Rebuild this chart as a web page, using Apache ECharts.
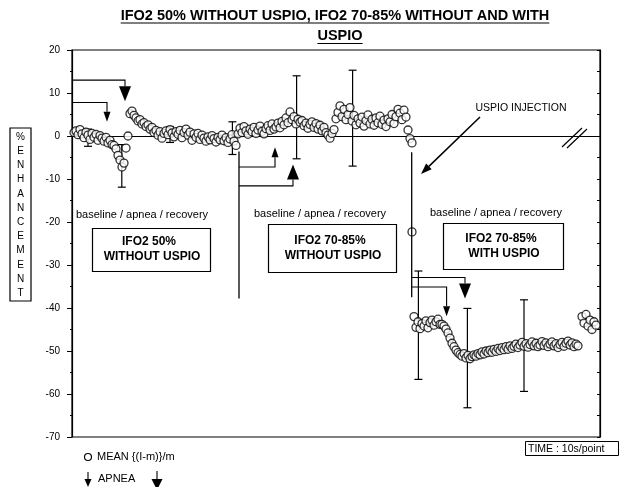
<!DOCTYPE html>
<html><head><meta charset="utf-8">
<script src="https://cdn.jsdelivr.net/npm/echarts@6/dist/echarts.min.js"></script>
<style>html,body{margin:0;padding:0;background:#fff}#c{width:620px;height:487px}</style>
</head><body><div id="c"></div>
<script>
// ---- data (x = point index, 10 s per point; y = % enhancement) ----
const yTickValues = [20, 10, 0, -10, -20, -30, -40, -50, -60, -70];

const seg1Start = 1;   // IFO2 50% without USPIO
const seg1 = [0.8, 1.2, 0.3, 1.5, 0.5, -0.4, 0.9, 0.2, -0.8, 0.6, -0.3, 0.4, -1.0, 0.1,
  -0.5, -1.2, -0.3, -1.6, -1.0, -2.0,
  -2.2, -3.0, -4.5, -5.6, -7.2, -6.3, -2.8,
  0.0,
  5.2, 5.8, 4.8, 4.2, 3.5, 3.8, 2.8, 3.1, 2.2, 2.6, 1.6, 2.0,
  0.8, 1.3, 0.2, 1.0, -0.5, 0.6, 1.2, 0.3, 1.5, 0.7, -0.2, 1.0, 0.4, 1.3, -0.4, 0.8, 1.6, 0.2, 0.9, -1.0,
  0.5, -0.3, 0.6, -0.8, 0.2, -0.5, -1.2, -0.2, -0.9, 0.1, -0.6, -1.4, -0.3, -0.9, 0.2, -1.1, -0.4, -1.5,
  -0.7, 0.3, -1.2, -2.2];

const seg2Start = 83;  // IFO2 70-85% without USPIO
const seg2 = [0.5, 1.8, 0.8, 2.2, 1.2, 0.4, 1.6,
  1.0, 2.0, 0.6, 1.4, 2.3, 1.1, 0.5, 1.7, 2.4, 1.3, 2.8, 1.6, 2.1, 3.0, 1.9,
  3.4, 2.6, 4.2, 3.1, 5.6, 3.8, 4.5, 2.8, 3.9, 3.2,
  3.6, 2.4, 3.0, 1.8, 2.7, 3.3, 2.0, 2.9, 1.6, 2.5, 1.2, 2.0, 0.8,
  0.2, -0.5, 0.6, 1.5, 4.0,
  5.5, 7.0, 4.5, 6.2, 3.8, 5.0, 6.6,
  3.5, 4.8, 2.6, 4.0, 3.0, 4.4, 2.3, 3.6, 4.9, 2.8, 3.9, 2.5, 4.2, 3.1, 4.6, 2.7, 3.7, 2.2, 4.0, 3.3,
  5.0, 2.9, 4.5, 6.2, 5.3, 3.8, 6.0, 4.4, 1.4, -0.6,
  -1.6];

const injectionPoint = [[170, -22.3]];

const seg3Start = 171; // IFO2 70-85% with USPIO
const seg3 = [-42.0, -44.5, -43.2, -44.8, -43.6, -44.2, -43.0, -44.6, -43.4, -42.8, -44.0, -43.2, -42.6, -43.8,
  -43.8, -44.2, -44.9, -45.8, -47.0, -48.2,
  -49.0, -49.8, -50.4, -50.8, -51.2, -50.6, -51.6, -51.0, -51.8, -51.3, -50.9,
  -51.2, -50.6, -50.9, -50.2, -50.7, -50.0, -50.4, -49.8, -50.3, -49.6, -50.1, -49.4, -49.9, -49.2, -49.7,
  -49.0, -49.6, -48.8, -49.4, -48.9,
  -48.4, -49.2, -48.6, -48.0, -48.9, -48.3, -49.1, -48.5, -47.9, -48.8, -48.2, -49.0, -48.6, -47.8, -48.7,
  -48.1, -49.0, -48.4, -47.9, -48.8, -48.3, -49.2, -48.5, -48.0, -48.9, -48.2, -47.7, -48.6, -48.1, -49.0,
  -48.4, -48.8];

const seg4Start = 255; // after the time break
const seg4 = [-42.0, -43.5, -41.5, -44.2, -42.8, -45.0, -43.2, -44.0];

// error bars: [x, low, high]
const errorBars = [[8, -2.4, 1.6], [24.9, -11.9, -2.0], [49, -1.5, 2.2], [80.2, -4.3, 3.3],
  [112.3, -5.3, 14.0], [140.3, -7.0, 15.3], [173.2, -56.6, -31.4], [197.7, -63.2, -40.1], [226, -59.4, -38.1]];

// period separators: [x, top, bottom]
const separators = [[83.5, -3.6, -37.8], [169.85, -3.8, -37.5]];

// apnea markers: [xFrom, yLevel, xArrow, yTip, kind(1=big,0=small)]
const apneaMarks = [[0, 13.0, 26.5, 8.1, 1], [0, 7.8, 17.5, 3.3, 0],
  [83.5, -7.2, 101.5, -2.6, 0], [83.5, -11.6, 110.5, -6.6, 1],
  [169.85, -32.9, 196.5, -37.8, 1], [169.85, -35.1, 187.3, -41.9, 0]];

// ---- chart ----
const FONT = '"Liberation Sans", Arial, Helvetica, sans-serif';
const chart = echarts.init(document.getElementById('c'), null, {renderer: 'canvas'});
const toPts = (arr, start) => arr.map((v, i) => [start + i, v]);
const pointStyle = {color: '#fff', borderColor: '#000', borderWidth: 1.3};
const scatter = (name, data) => ({type: 'scatter', name, data, symbol: 'circle', symbolSize: 8,
  itemStyle: pointStyle, z: 3, silent: true});

function renderErr(params, api) {
  const x = api.value(0);
  const pLo = api.coord([x, api.value(1)]), pHi = api.coord([x, api.value(2)]);
  const w = 4, st = {stroke: '#000', lineWidth: 1.2};
  return {type: 'group', children: [
    {type: 'line', shape: {x1: pLo[0], y1: pLo[1], x2: pHi[0], y2: pHi[1]}, style: st},
    {type: 'line', shape: {x1: pLo[0] - w, y1: pLo[1], x2: pLo[0] + w, y2: pLo[1]}, style: st},
    {type: 'line', shape: {x1: pHi[0] - w, y1: pHi[1], x2: pHi[0] + w, y2: pHi[1]}, style: st}]};
}
function renderSep(params, api) {
  const x = api.value(0);
  const a = api.coord([x, api.value(1)]), b = api.coord([x, api.value(2)]);
  return {type: 'line', shape: {x1: a[0], y1: a[1], x2: b[0], y2: b[1]}, style: {stroke: '#000', lineWidth: 1.3}};
}
function renderApnea(params, api) {
  const p0 = api.coord([api.value(0), api.value(1)]);
  const p1 = api.coord([api.value(2), api.value(1)]);
  const tip = api.coord([api.value(2), api.value(3)]);
  const big = api.value(4) === 1;
  const L = big ? 15 : 10, W = big ? 12 : 7;
  const dir = tip[1] > p1[1] ? 1 : -1;
  const baseY = tip[1] - dir * L;
  return {type: 'group', children: [
    {type: 'polyline', shape: {points: [p0, p1, [tip[0], baseY]]}, style: {stroke: '#000', lineWidth: 1.1, fill: null}},
    {type: 'polygon', shape: {points: [[tip[0] - W / 2, baseY], [tip[0] + W / 2, baseY], [tip[0], tip[1]]]}, style: {fill: '#000'}}]};
}

// ---- decorations (text) ----
const ctx = document.createElement('canvas').getContext('2d');
function textW(t, font) { ctx.font = font; return ctx.measureText(t).width; }
const g = [];
const title1 = 'IFO2 50% WITHOUT USPIO, IFO2 70-85% WITHOUT AND WITH';
const title2 = 'USPIO';
const tFont = 'bold 14.5px ' + FONT;
[[title1, 335, 16, 23], [title2, 340, 36, 43.5]].forEach(([t, cx, cy, uy]) => {
  const w = textW(t, tFont);
  g.push({type: 'text', x: cx, y: cy, style: {text: t, font: tFont, fill: '#000', align: 'center', verticalAlign: 'middle'}});
  g.push({type: 'line', shape: {x1: cx - w / 2, y1: uy, x2: cx + w / 2, y2: uy}, style: {stroke: '#000', lineWidth: 1.2}});
});
// Y label box
g.push({type: 'rect', shape: {x: 10, y: 128, width: 21, height: 173}, style: {fill: null, stroke: '#000', lineWidth: 1.2}});
'%ENHANCEMENT'.split('').forEach((ch, i) => {
  g.push({type: 'text', x: 20.5, y: 137 + i * 14.2, style: {text: ch, font: '10px ' + FONT, fill: '#000', align: 'center', verticalAlign: 'middle'}});
});
// phase labels and boxes
const small = '11px ' + FONT, boxF = 'bold 12px ' + FONT;
[[142, 215, 92, 228, 118, 43, 'IFO2 50%', 'WITHOUT USPIO'],
 [320, 214, 268, 224, 128, 48, 'IFO2 70-85%', 'WITHOUT USPIO'],
 [496, 213, 443, 223, 120, 46, 'IFO2 70-85%', 'WITH USPIO']].forEach(([bx, by, rx, ry, rw, rh, l1, l2]) => {
  g.push({type: 'text', x: bx, y: by, style: {text: 'baseline / apnea / recovery', font: small, fill: '#000', align: 'center', verticalAlign: 'middle'}});
  g.push({type: 'rect', shape: {x: rx + 0.5, y: ry + 0.5, width: rw, height: rh}, style: {fill: '#fff', stroke: '#000', lineWidth: 1.2}});
  g.push({type: 'text', x: rx + rw / 2 - 2, y: ry + rh / 2 - 7.5, style: {text: l1, font: boxF, fill: '#000', align: 'center', verticalAlign: 'middle'}});
  g.push({type: 'text', x: rx + rw / 2 + 1, y: ry + rh / 2 + 7.5, style: {text: l2, font: boxF, fill: '#000', align: 'center', verticalAlign: 'middle'}});
});
// USPIO injection arrow
g.push({type: 'text', x: 521, y: 108, style: {text: 'USPIO INJECTION', font: '10.5px ' + FONT, fill: '#000', align: 'center', verticalAlign: 'middle'}});
(function () {
  const x1 = 480, y1 = 117, x2 = 421, y2 = 174;
  const dx = x2 - x1, dy = y2 - y1, len = Math.hypot(dx, dy), ux = dx / len, uy = dy / len;
  const L = 11, W = 4;
  const bx = x2 - ux * L, by = y2 - uy * L;
  g.push({type: 'line', shape: {x1, y1, x2: bx, y2: by}, style: {stroke: '#000', lineWidth: 1.5}});
  g.push({type: 'polygon', shape: {points: [[x2, y2], [bx - uy * W, by + ux * W], [bx + uy * W, by - ux * W]]}, style: {fill: '#000'}});
})();
// time break marks
g.push({type: 'line', shape: {x1: 562, y1: 147, x2: 582, y2: 128}, style: {stroke: '#000', lineWidth: 1.2}});
g.push({type: 'line', shape: {x1: 567, y1: 148, x2: 587, y2: 129}, style: {stroke: '#000', lineWidth: 1.2}});
// legend
g.push({type: 'circle', shape: {cx: 88, cy: 457, r: 3.5}, style: {fill: '#fff', stroke: '#000', lineWidth: 1.2}});
g.push({type: 'text', x: 97, y: 457, style: {text: 'MEAN {(I-m)}/m', font: '11px ' + FONT, fill: '#000', verticalAlign: 'middle'}});
g.push({type: 'line', shape: {x1: 88, y1: 472, x2: 88, y2: 479}, style: {stroke: '#000', lineWidth: 1.1}});
g.push({type: 'polygon', shape: {points: [[84.5, 479], [91.5, 479], [88, 487]]}, style: {fill: '#000'}});
g.push({type: 'text', x: 98, y: 479, style: {text: 'APNEA', font: '11px ' + FONT, fill: '#000', verticalAlign: 'middle'}});
g.push({type: 'line', shape: {x1: 157, y1: 471, x2: 157, y2: 479}, style: {stroke: '#000', lineWidth: 1.1}});
g.push({type: 'polygon', shape: {points: [[151.5, 479], [162.5, 479], [157, 490]]}, style: {fill: '#000'}});
// time box
g.push({type: 'rect', shape: {x: 525.5, y: 441.5, width: 93, height: 14}, style: {fill: '#fff', stroke: '#000', lineWidth: 1}});
g.push({type: 'text', x: 528, y: 449, style: {text: 'TIME : 10s/point', font: '10.5px ' + FONT, fill: '#000', verticalAlign: 'middle'}});

chart.setOption({
  animation: false,
  backgroundColor: '#fff',
  grid: {left: 72, right: 20, top: 50, bottom: 50, show: true, borderColor: '#000', borderWidth: 1.2, backgroundColor: 'transparent'},
  xAxis: {type: 'value', min: 0, max: 264, axisLine: {show: true, lineStyle: {color: '#000', width: 1.2}},
    axisTick: {show: false}, axisLabel: {show: false}, splitLine: {show: false}},
  yAxis: [
    {type: 'value', min: -70, max: 20, interval: 10,
      axisLine: {show: true, lineStyle: {color: '#000', width: 1.2}},
      axisTick: {show: true, length: 5, lineStyle: {color: '#000'}},
      minorTick: {show: true, splitNumber: 2, length: 2, lineStyle: {color: '#000'}},
      axisLabel: {color: '#000', fontSize: 10, fontFamily: FONT, margin: 12,
        formatter: v => yTickValues.includes(v) ? String(v) : ''},
      splitLine: {show: false}},
    {type: 'value', position: 'right', min: -70, max: 20, interval: 5,
      axisLine: {show: true, lineStyle: {color: '#000', width: 1.2}},
      axisTick: {show: true, inside: true, length: 3, lineStyle: {color: '#000'}},
      axisLabel: {show: false}, splitLine: {show: false}}
  ],
  series: [
    {type: 'custom', name: 'err', renderItem: renderErr, data: errorBars, encode: {x: 0, y: [1, 2]}, z: 2, silent: true},
    Object.assign(scatter('seg1', toPts(seg1, seg1Start)), {
      markLine: {silent: true, symbol: 'none', label: {show: false},
        lineStyle: {color: '#000', width: 1, type: 'solid'}, data: [{yAxis: 0}], z: 1}}),
    scatter('seg2', toPts(seg2, seg2Start)),
    {type: 'custom', name: 'sep', renderItem: renderSep, data: separators, encode: {x: 0, y: [1, 2]}, z: 4, silent: true},
    scatter('inj', injectionPoint),
    scatter('seg3', toPts(seg3, seg3Start)),
    scatter('seg4', toPts(seg4, seg4Start)),
    {type: 'custom', name: 'apnea', renderItem: renderApnea, data: apneaMarks, encode: {x: [0, 2], y: [1, 3]}, z: 5, silent: true}
  ],
  graphic: {elements: g}
});
</script></body></html>
